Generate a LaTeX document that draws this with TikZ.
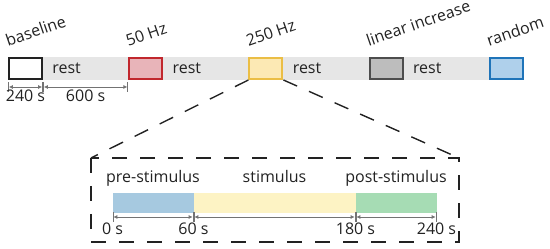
\documentclass[tikz,border=0pt]{standalone}
\usepackage{fontspec}
\setmainfont{Open Sans}
\usetikzlibrary{positioning, arrows.meta, backgrounds}

\definecolor{bandgray}{HTML}{E6E6E6}
\definecolor{inkgray}{HTML}{222222}
\definecolor{redline}{HTML}{C1272D}
\definecolor{redfill}{HTML}{E8B4B9}
\definecolor{yelline}{HTML}{EBBE45}
\definecolor{yelfill}{HTML}{FCE9B4}
\definecolor{grayline}{HTML}{4D4D4D}
\definecolor{grayfill}{HTML}{BDBDBD}
\definecolor{blueline}{HTML}{1F74B9}
\definecolor{bluefill}{HTML}{AFD0EB}
\definecolor{prefill}{HTML}{A6C9E0}
\definecolor{stimfill}{HTML}{FDF3C4}
\definecolor{postfill}{HTML}{A6DCB4}

\begin{document}
\begin{tikzpicture}[
  x=0.5pt, y=-0.5pt,
  >={Latex[length=2pt,width=2pt]},
  node distance=42.6pt,
  font=\fontsize{8}{9.6}\selectfont,
  text=inkgray,
  cond/.style={draw, line width=1pt, minimum width=16.5pt,
               minimum height=10.5pt, inner sep=0pt},
  seg/.style={minimum height=10pt, inner sep=0pt, outer sep=0pt},
  tag/.style={rotate=19, anchor=south west, inner sep=0pt},
  rest/.style={right=4.5pt of #1, inner sep=0pt},
  dim/.style={draw=black!55, line width=0.4pt, |<->|},
  zoomline/.style={draw=inkgray, line width=0.7pt, dash pattern=on 7.5pt off 6.5pt}
]
  \useasboundingbox (0,0) rectangle (550,249);

  \node[cond, draw=inkgray, fill=white] at (25.5,68.5) (base) {};
  \node[cond, draw=redline, fill=redfill, right=of base] (f50) {};
  \node[cond, draw=yelline, fill=yelfill, right=of f50] (f250) {};
  \node[cond, draw=grayline, fill=grayfill, right=of f250] (lin) {};
  \node[cond, draw=blueline, fill=bluefill, right=of lin] (rand) {};
  \begin{scope}[on background layer]
    \fill[bandgray] (base.north west) rectangle (rand.south east);
  \end{scope}

  \node[tag] at ([yshift=5pt]base.north west) {baseline};
  \node[tag] at ([yshift=5pt]f50.north west)  {50 Hz};
  \node[tag] at ([yshift=5pt]f250.north west) {250 Hz};
  \node[tag] at ([yshift=5pt]lin.north west)  {linear increase};
  \node[tag] at ([yshift=5pt]rand.north west) {random};

  \node[rest=base] (r1) {rest};
  \node[rest=f50]  (r2) {rest};
  \node[rest=f250] (r3) {rest};
  \node[rest=lin]  (r4) {rest};

  \draw[dim] ([yshift=-3.5pt]base.south west) --
    node[below, inner sep=1.5pt] {240 s} ([yshift=-3.5pt]base.south east);
  \draw[dim] ([yshift=-3.5pt]base.south east) --
    node[below, inner sep=1.5pt] {600 s} ([yshift=-3.5pt]f50.south west);

  \coordinate (ztl) at (91,158);
  \coordinate (ztr) at (459,158);
  \coordinate (zbr) at (459,242);
  \draw[zoomline] (ztl) rectangle (zbr);
  \draw[zoomline] (f250.south west) -- (ztl);
  \draw[zoomline] (f250.south east) -- (ztr);

  \node[seg, fill=prefill, minimum width=40.5pt] at (153,203) (pre) {};
  \node[seg, fill=stimfill, minimum width=81pt, right=0pt of pre] (stim) {};
  \node[seg, fill=postfill, minimum width=40.5pt, right=0pt of stim] (post) {};

  \node[anchor=base, inner sep=0pt] at ([yshift=5pt]pre.north)  {pre-stimulus};
  \node[anchor=base, inner sep=0pt] at ([yshift=5pt]stim.north) {stimulus};
  \node[anchor=base, inner sep=0pt] at ([yshift=5pt]post.north) {post-stimulus};

  \draw[dim] ([yshift=-2pt]pre.south west) --
    node[pos=0, below, inner sep=3pt] {0 s} ([yshift=-2pt]pre.south east);
  \draw[dim] ([yshift=-2pt]stim.south west) --
    node[pos=0, below, inner sep=3pt] {60 s} ([yshift=-2pt]stim.south east);
  \draw[dim] ([yshift=-2pt]post.south west) --
    node[pos=0, below, inner sep=3pt] {180 s}
    node[pos=1, below, inner sep=3pt] {240 s} ([yshift=-2pt]post.south east);
\end{tikzpicture}
\end{document}
